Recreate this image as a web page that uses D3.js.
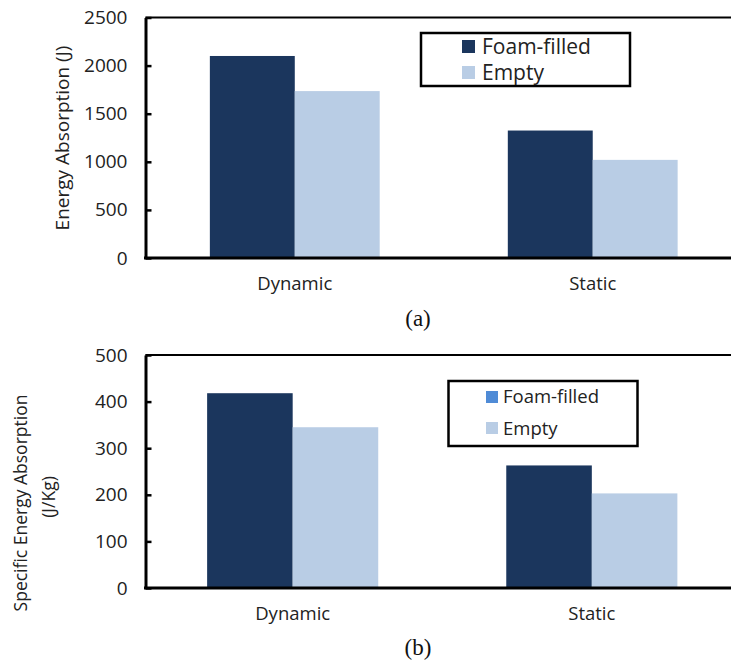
<!DOCTYPE html>
<html>
<head>
<meta charset="utf-8">
<script src="https://cdn.jsdelivr.net/npm/d3@7"></script>
<style>
  html, body { margin: 0; padding: 0; background: #fff; }
  svg { display: block; }
  text { font-family: "Open Sans", "Noto Sans", sans-serif; fill: #222; }
  .caption { font-family: "Liberation Serif", "DejaVu Serif", serif; fill: #111; }
</style>
</head>
<body>
<svg id="chart" width="731" height="660"></svg>
<script>
// ---- data ----
const categories = ["Dynamic", "Static"];
const series = ["Foam-filled", "Empty"];
const energyFoam = [2100, 1325];
const energyEmpty = [1735, 1020];
const seaFoam = [418, 263];
const seaEmpty = [345, 203];
const energyTicks = [0, 500, 1000, 1500, 2000, 2500];
const seaTicks = [0, 100, 200, 300, 400, 500];

const barColors = { "Foam-filled": "#1b365d", "Empty": "#b9cde5" };

const svg = d3.select("#chart");

function drawPanel(cfg) {
  const g = svg.append("g");
  const rows = categories.map((c, i) => ({ cat: c, values: [
    { key: series[0], v: cfg.foam[i] },
    { key: series[1], v: cfg.empty[i] }
  ]}));

  const x0 = d3.scaleBand().domain(categories)
    .range([cfg.left, cfg.bandRight])
    .paddingInner(cfg.padInner).paddingOuter(cfg.padOuter);
  const x1 = d3.scaleBand().domain(series).range([0, x0.bandwidth()]);
  const y = d3.scaleLinear().domain([0, cfg.ticks[cfg.ticks.length - 1]])
    .range([cfg.bottom, cfg.top]);

  // bars
  g.selectAll("g.cat").data(rows).join("g")
    .attr("transform", d => `translate(${x0(d.cat)},0)`)
    .selectAll("rect").data(d => d.values).join("rect")
    .attr("x", d => x1(d.key))
    .attr("width", x1.bandwidth())
    .attr("y", d => y(d.v))
    .attr("height", d => y(0) - y(d.v))
    .attr("fill", d => barColors[d.key]);

  // top frame line
  const yTop = y(cfg.ticks[cfg.ticks.length - 1]);
  g.append("line")
    .attr("x1", cfg.left).attr("x2", 731)
    .attr("y1", yTop).attr("y2", yTop)
    .attr("stroke", "#000").attr("stroke-width", 2);

  // y axis
  const ya = g.append("g")
    .attr("transform", `translate(${cfg.left},0)`)
    .call(d3.axisLeft(y).tickValues(cfg.ticks).tickFormat(d3.format("d"))
      .tickSize(-6).tickSizeOuter(0).tickPadding(18));
  ya.select(".domain").attr("stroke", "#000").attr("stroke-width", 3);
  ya.selectAll(".tick line").attr("stroke", "#000").attr("stroke-width", 2.5);
  ya.selectAll(".tick text").attr("font-size", 19).attr("font-family", "Open Sans").attr("fill", "#222");

  // x axis
  const xa = g.append("g")
    .attr("transform", `translate(0,${cfg.bottom})`)
    .call(d3.axisBottom(x0).tickSize(0).tickPadding(19));
  xa.select(".domain").remove();
  xa.selectAll(".tick text").attr("font-size", 18.5).attr("font-family", "Open Sans").attr("fill", "#222");
  g.append("line")
    .attr("x1", cfg.left - 1.5).attr("x2", 731)
    .attr("y1", cfg.bottom).attr("y2", cfg.bottom)
    .attr("stroke", "#000").attr("stroke-width", 3);

  // y label
  cfg.ylabel.forEach((t, i) => {
    g.append("text")
      .attr("transform", `translate(${cfg.ylabelX[i]},${cfg.ylabelY[i]}) rotate(-90)`)
      .attr("text-anchor", "middle")
      .attr("dominant-baseline", "central")
      .attr("font-size", cfg.ylabelSize)
      .text(t);
  });

  // legend
  const L = cfg.legend;
  g.append("rect")
    .attr("x", L.x).attr("y", L.y).attr("width", L.w).attr("height", L.h)
    .attr("fill", "#fff").attr("stroke", "#000").attr("stroke-width", 2.5);
  series.forEach((s, i) => {
    g.append("rect")
      .attr("x", L.sx).attr("y", L.sy[i]).attr("width", L.ss).attr("height", L.ss)
      .attr("fill", L.colors[i]);
    g.append("text")
      .attr("x", L.tx).attr("y", L.ty[i])
      .attr("font-size", L.fs)
      .text(s);
  });

  // caption
  g.append("text").attr("class", "caption")
    .attr("x", 418).attr("y", cfg.captionY)
    .attr("text-anchor", "middle")
    .attr("font-size", 23)
    .text(cfg.caption);
}

drawPanel({
  foam: energyFoam, empty: energyEmpty, ticks: energyTicks,
  left: 145.5, top: 17.5, bottom: 258, bandRight: 742,
  padInner: 0.43, padOuter: 0.216,
  ylabel: ["Energy Absorption (J)"], ylabelX: [62], ylabelY: [138], ylabelSize: 19,
  legend: { x: 421, y: 33, w: 209, h: 53, sx: 462, sy: [40, 66], ss: 13,
            tx: 482, ty: [54, 80], fs: 21, colors: ["#1b365d", "#b9cde5"] },
  caption: "(a)", captionY: 326
});

drawPanel({
  foam: seaFoam, empty: seaEmpty, ticks: seaTicks,
  left: 145.5, top: 355, bottom: 588, bandRight: 739,
  padInner: 0.428, padOuter: 0.206,
  ylabel: ["Specific Energy Absorption", "(J/Kg)"], ylabelX: [20, 48], ylabelY: [503, 497], ylabelSize: 17.5,
  legend: { x: 448.5, y: 381, w: 189, h: 65, sx: 486, sy: [391, 422], ss: 12,
            tx: 503, ty: [403, 435], fs: 18.5, colors: ["#4f8bd6", "#b9cde5"] },
  caption: "(b)", captionY: 655
});
</script>
</body>
</html>
